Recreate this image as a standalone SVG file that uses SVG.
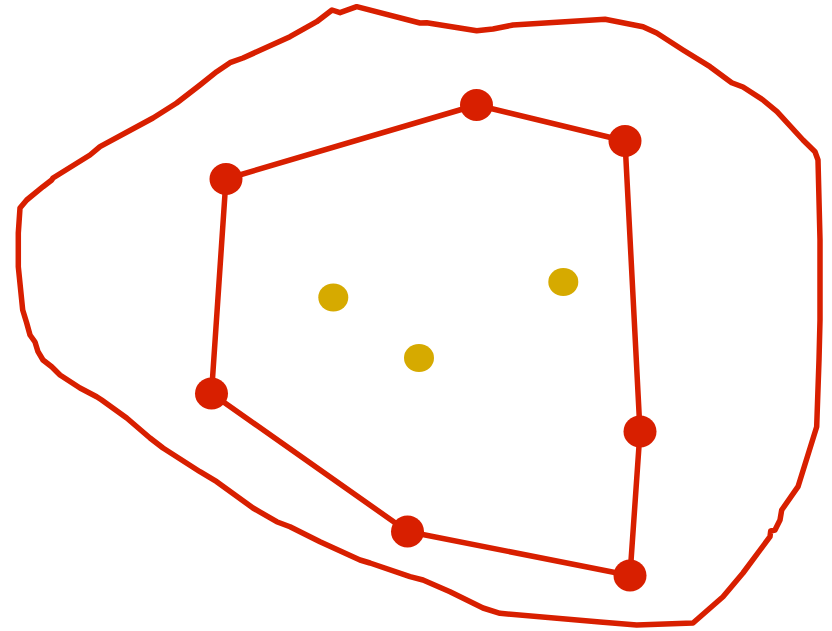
<svg xmlns="http://www.w3.org/2000/svg" width="832" height="631" viewBox="0 0 832 631">
<style>
.edge{stroke:#d81f00;stroke-width:5.5;fill:none;stroke-linecap:round}
.outline{stroke:#d81f00;stroke-width:5.5;fill:none;stroke-linejoin:round;stroke-linecap:round}
.hull{fill:#d81f00}
.pt{fill:#d6aa00}
</style>
<rect width="832" height="631" fill="#ffffff"/>
<path id="outline" class="outline" d="M332,10 L340,12.7 L356.7,6.7 L420,23 L426.7,22.7 L476.7,30.7 L493,29 L513,25 L605,19.3 L643,26.7 L656.7,33 L683,50 L710,66.7 L731.7,82.7 L743,87 L763,100 L777,111.7 L803,140 L815,151.7 L818,160 L820,240 L820,320 L819,360 L816.7,426.7 L798,486.7 L781.7,510 L780,520 L775,530 L770.7,531 L770,536.7 L743,573 L723,596.7 L693,623 L636.7,625 L600,622 L500,613.3 L483,608 L450,591.7 L423,580 L410,576.7 L370,563 L360,560 L320,541.7 L290,526.7 L276.7,521.7 L253,508 L216.7,481.7 L200,471.7 L163,448 L150,438 L126.7,418 L101.7,400 L96.7,396.7 L80,388 L60,375 L51.7,366.7 L43,360 L38,351.7 L35,342 L30,335 L26.7,323 L22.7,310 L18.3,266.7 L18.3,233 L20,208 L26.7,200 L43,186.7 L51.7,180 L53,178 L90,155 L100,146.7 L153,118 L176.7,103 L200,85 L216.7,71.7 L230,62.7 L243,58 L290,36.7 L316.7,21.7 Z"/>
<g id="connectors">
<line class="edge" x1="226" y1="179" x2="476.5" y2="105"/>
<line class="edge" x1="476.5" y1="105" x2="625" y2="141"/>
<line class="edge" x1="625" y1="141" x2="640" y2="431.5"/>
<line class="edge" x1="640" y1="431.5" x2="630" y2="575.5"/>
<line class="edge" x1="630" y1="575.5" x2="407.5" y2="531.5"/>
<line class="edge" x1="407.5" y1="531.5" x2="211.5" y2="393.5"/>
<line class="edge" x1="211.5" y1="393.5" x2="226" y2="179"/>
</g>
<g id="node-a"><ellipse class="hull" cx="226" cy="179" rx="16.5" ry="16"/></g>
<g id="node-b"><ellipse class="hull" cx="476.5" cy="105" rx="16.5" ry="16"/></g>
<g id="node-c"><ellipse class="hull" cx="625" cy="141" rx="16.5" ry="16"/></g>
<g id="node-d"><ellipse class="hull" cx="640" cy="431.5" rx="16.5" ry="16"/></g>
<g id="node-e"><ellipse class="hull" cx="630" cy="575.5" rx="16.5" ry="16"/></g>
<g id="node-f"><ellipse class="hull" cx="407.5" cy="531.5" rx="16.5" ry="16"/></g>
<g id="node-g"><ellipse class="hull" cx="211.5" cy="393.5" rx="16.5" ry="16"/></g>
<g id="node-p1"><ellipse class="pt" cx="333.3" cy="297.5" rx="15" ry="14"/></g>
<g id="node-p2"><ellipse class="pt" cx="563.3" cy="282" rx="15" ry="14"/></g>
<g id="node-p3"><ellipse class="pt" cx="419" cy="358" rx="15" ry="14"/></g>
</svg>
